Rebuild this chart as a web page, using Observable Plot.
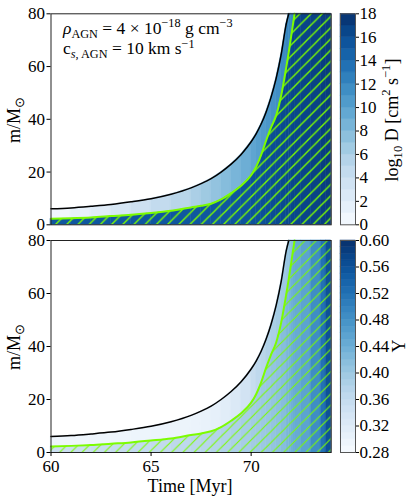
<!DOCTYPE html>
<html><head><meta charset="utf-8">
<script src="https://cdn.jsdelivr.net/npm/d3@7"></script>
<script src="https://cdn.jsdelivr.net/npm/@observablehq/plot@0.6"></script>
<style>
html,body{margin:0;padding:0;background:#fff;}
#root{position:relative;width:416px;height:501px;overflow:hidden;}
#root > svg{position:absolute;}
text{white-space:pre;}
</style></head><body>
<svg width="0" height="0" style="position:absolute">
<defs>
<pattern id="hatchTop" patternUnits="userSpaceOnUse" width="11.2" height="11.2">
<path d="M-2.8,2.8 L2.8,-2.8 M0,11.2 L11.2,0 M8.4,14 L14,8.4" stroke="#7cfc00" stroke-width="1.4" fill="none"/>
</pattern>
<pattern id="hatchBot" patternUnits="userSpaceOnUse" width="11.2" height="11.2">
<path d="M-2.8,2.8 L2.8,-2.8 M0,11.2 L11.2,0 M8.4,14 L14,8.4" stroke="#7cfc00" stroke-width="1.1" fill="none"/>
</pattern>
</defs></svg>
<div id="root"></div>
<script>
// ---- data ----
const time   = [60, 61, 62, 63, 64, 65, 66, 67, 67.5, 68, 68.5, 69, 69.5, 70, 70.25, 70.5, 70.75, 71, 71.25, 71.5, 71.75, 71.88, 72, 72.17, 72.5, 73, 73.5, 73.75, 74];
const mBlack = [6.05, 6.4, 7.0, 7.7, 8.7, 9.9, 11.6, 14.0, 15.6, 17.5, 20.0, 23.0, 26.7, 31.5, 34.5, 38.2, 42.8, 48.5, 55.5, 64.5, 76.0, 80, null, null, null, null, null, null, null];
const mGreen = [2.3, 2.5, 2.8, 3.3, 3.8, 4.5, 5.3, 6.6, 7.2, 8.0, 9.6, 12.0, 14.8, 18.8, 22.0, 26.5, 32.0, 37.0, 41.5, 49.0, 59.5, 65.5, 71.5, 80, null, null, null, null, null];
const logDBetween = [0.5, 1.4, 2.2, 3.0, 3.8, 4.5, 5.2, 6.0, 6.6, 7.2, 7.8, 8.4, 9.0, 9.7, 10.1, 10.5, 10.8, 11.1, 11.4, 11.7, 12.0, 12.0, 12.0, null, null, null, null, null, null];
const logDBelow   = [15.3, 15.3, 15.3, 15.3, 15.3, 15.3, 15.3, 15.3, 15.3, 15.3, 15.3, 15.4, 15.5, 15.6, 15.7, 15.8, 15.9, 16.0, 16.1, 16.2, 16.3, 16.3, 16.4, 16.5, 16.6, 16.8, 17.0, 17.1, 17.2];
const yBetween = [0.295, 0.295, 0.295, 0.295, 0.296, 0.297, 0.298, 0.300, 0.303, 0.307, 0.315, 0.325, 0.340, 0.355, 0.365, 0.372, 0.380, 0.387, 0.393, 0.398, 0.403, 0.410, 0.415, null, null, null, null, null, null];
const yBelow   = [0.350, 0.352, 0.355, 0.357, 0.360, 0.362, 0.366, 0.371, 0.374, 0.377, 0.381, 0.385, 0.390, 0.395, 0.397, 0.400, 0.403, 0.407, 0.412, 0.418, 0.425, 0.430, 0.437, 0.445, 0.455, 0.485, 0.520, 0.560, 0.580];
const massTicks = [0, 20, 40, 60, 80];
const timeTicks = [60, 65, 70];
const dTicks = [0, 2, 4, 6, 8, 10, 12, 14, 16, 18];
const dLevels = [0,1,2,3,4,5,6,7,8,9,10,11,12,13,14,15,16,17];
const yTicks = [0.28, 0.32, 0.36, 0.40, 0.44, 0.48, 0.52, 0.56, 0.60];
const yLevels = [0.28,0.29,0.30,0.31,0.32,0.33,0.34,0.35,0.36,0.37,0.38,0.39,0.40,0.41,0.42,0.43,0.44,0.45,0.46,0.47,0.48,0.49,0.50,0.51,0.52,0.53,0.54,0.55,0.56,0.57,0.58,0.59];

const FONT = "Liberation Serif";
const FS = 17;
const root = document.getElementById("root");

const rows = time.map((t, i) => ({t, bl: mBlack[i], gr: mGreen[i], g: mGreen[i] ?? 80, b: mBlack[i] ?? 80}));
function segs(vals) {
  const out = [];
  for (let i = 0; i < time.length - 1; i++) {
    if (vals[i] == null) continue;
    for (const j of [i, i + 1]) out.push({seg: i, t: time[j], g: rows[j].g, b: rows[j].b, v: vals[i]});
  }
  return out;
}

function rich(svg, x, y, parts, {size = 16, rotate = false, anchor = "start", supShift = 0.42} = {}) {
  const t = d3.select(svg).append("text")
    .attr("font-family", FONT).attr("font-size", size).attr("fill", "#000").attr("text-anchor", anchor);
  if (rotate) t.attr("transform", `translate(${x},${y}) rotate(-90)`); else t.attr("x", x).attr("y", y);
  let shift = 0;
  for (const p of parts) {
    const target = p.sub ? 0.22 * size : p.sup ? -supShift * size : 0;
    const ts = t.append("tspan").text(p.t).attr("dy", target - shift);
    shift = target;
    if (p.sub || p.sup) ts.attr("font-size", size * 0.7);
    if (p.it) ts.attr("font-style", "italic");
  }
}

function place(svg, left, topPx) {
  svg.style.left = left + "px"; svg.style.top = topPx + "px";
  root.appendChild(svg);
}

function panel({between, below, domain, hatch, height, mt, mb, xAxis}) {
  return Plot.plot({
    width: 340, height, marginLeft: 50.5, marginRight: 9.3, marginTop: mt, marginBottom: mb,
    x: {domain: [60, 74]}, y: {domain: [0, 80]},
    color: {type: "linear", scheme: "blues", domain},
    style: {fontFamily: FONT, fontSize: FS + "px", background: "transparent", color: "#000", overflow: "visible"},
    marks: [
      Plot.areaY(segs(below), {x: "t", y1: 0, y2: "g", z: "seg", fill: "v", stroke: "v", strokeWidth: 0.6, curve: "linear"}),
      Plot.areaY(segs(between), {x: "t", y1: "g", y2: "b", z: "seg", fill: "v", stroke: "v", strokeWidth: 0.6, curve: "linear"}),
      Plot.areaY(rows, {x: "t", y1: 0, y2: "g", fill: `url(#${hatch})`, curve: "linear"}),
      Plot.line(rows.filter(d => d.bl != null), {x: "t", y: "bl", stroke: "#000", strokeWidth: 1.5, curve: "monotone-x"}),
      Plot.line(rows.filter(d => d.gr != null), {x: "t", y: "gr", stroke: "#7cfc00", strokeWidth: 2, curve: "monotone-x"}),
      Plot.frame({stroke: "#222", strokeWidth: 1}),
      Plot.axisY({ticks: massTicks, tickSize: 4, tickPadding: 2, label: null}),
      xAxis ? Plot.axisX({ticks: timeTicks, tickSize: 4, tickPadding: 3, label: null}) : Plot.axisX({ticks: [], label: null})
    ]
  });
}

function colorbar({levels, step, domain, ticks, fmt, height, mt, mb}) {
  return Plot.plot({
    width: 81, height, marginLeft: 5, marginRight: 61, marginTop: mt, marginBottom: mb,
    y: {domain: [domain[0], domain[1]]},
    color: {type: "linear", scheme: "blues", domain},
    style: {fontFamily: FONT, fontSize: FS + "px", background: "transparent", color: "#000", overflow: "visible"},
    marks: [
      Plot.rect(levels, {y1: d => d, y2: d => d + step, fill: d => d + step / 2, stroke: d => d + step / 2, strokeWidth: 0.5}),
      Plot.frame({stroke: "#555", strokeWidth: 1}),
      Plot.axisY({anchor: "right", ticks, tickSize: 3, tickPadding: 1, tickFormat: fmt, label: null})
    ]
  });
}

// top panel
const topPanel = panel({between: logDBetween, below: logDBelow, domain: [0, 18], hatch: "hatchTop", height: 232, mt: 13.3, mb: 7.7, xAxis: false});
place(topPanel, 0, 0);
rich(topPanel, 63, 34, [{t: "ρ", it: true}, {t: "AGN", sub: true}, {t: " = 4 × 10"}, {t: "−18", sup: true}, {t: " g cm"}, {t: "−3", sup: true}], {size: 17.5});
rich(topPanel, 63, 54, [{t: "c"}, {t: "s", sub: true, it: true}, {t: ", AGN", sub: true}, {t: " = 10 km s"}, {t: "−1", sup: true}], {size: 17.5, supShift: 0.36});
rich(topPanel, 20, 120, [{t: "m/M"}, {t: "⊙", sub: true}], {size: 18, rotate: true, anchor: "middle"});

// bottom panel
const botPanel = panel({between: yBetween, below: yBelow, domain: [0.28, 0.60], hatch: "hatchBot", height: 269, mt: 8, mb: 49, xAxis: true});
place(botPanel, 0, 232);
rich(botPanel, 20, 115, [{t: "m/M"}, {t: "⊙", sub: true}], {size: 18, rotate: true, anchor: "middle"});
rich(botPanel, 190, 259.5, [{t: "Time [Myr]"}], {size: 18, anchor: "middle"});

// colorbars
const cb1 = colorbar({levels: dLevels, step: 1, domain: [0, 18], ticks: dTicks, fmt: d3.format("d"), height: 232, mt: 13.3, mb: 7.7});
place(cb1, 335, 0);
rich(cb1, 63, 120, [{t: "log"}, {t: "10", sub: true}, {t: " D [cm"}, {t: "2", sup: true}, {t: " s"}, {t: "−1", sup: true}, {t: "]"}], {size: 18, rotate: true, anchor: "middle"});

const cb2 = colorbar({levels: yLevels, step: 0.01, domain: [0.28, 0.60], ticks: yTicks, fmt: d3.format(".2f"), height: 269, mt: 8, mb: 49});
place(cb2, 335, 232);
rich(cb2, 70, 114, [{t: "Y"}], {size: 18, rotate: true, anchor: "middle"});
</script>
</body></html>
